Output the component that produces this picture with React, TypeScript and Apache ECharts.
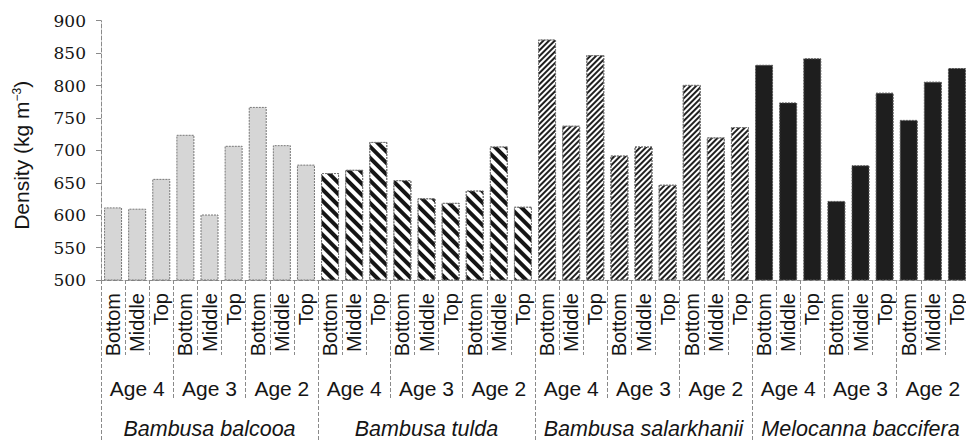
import React, { useEffect, useRef } from "react";
import * as echarts from "echarts";

const positions = ["Bottom", "Middle", "Top"];
const ages = ["Age 4", "Age 3", "Age 2"];
const species = ["Bambusa balcooa", "Bambusa tulda", "Bambusa salarkhanii", "Melocanna baccifera"];

// density values, order: Age 4 (Bottom, Middle, Top), Age 3 (...), Age 2 (...)
const balcooa = [612, 610, 656, 724, 601, 707, 767, 708, 678];
const tulda = [665, 670, 713, 654, 626, 619, 638, 706, 613];
const salarkhanii = [871, 738, 847, 692, 706, 647, 801, 720, 736];
const melocanna = [832, 774, 842, 622, 677, 789, 747, 806, 827];

const yMin = 500;
const yMax = 900;
const yStep = 50;

const positionCats: string[] = [];
const ageCats: string[] = [];
species.forEach(() => {
  ages.forEach((a) => {
    ageCats.push(a);
    positions.forEach((p) => positionCats.push(p));
  });
});

const speciesValues = [balcooa, tulda, salarkhanii, melocanna];

function spread(idx: number): (number | string)[] {
  const arr: (number | string)[] = positionCats.map(() => "-");
  speciesValues[idx].forEach((v, i) => {
    arr[idx * 9 + i] = v;
  });
  return arr;
}

const SANS = "Liberation Sans";
const SERIF = "DejaVu Serif";
const TXT = "#151515";
const LINE = "#8a8a8a";

export default function App() {
  const ref = useRef<HTMLDivElement>(null);
  useEffect(() => {
    if (!ref.current) return;
    document.documentElement.style.overflow = "hidden";
    document.body.style.overflow = "hidden";
    const chart = echarts.init(ref.current, undefined, { renderer: "svg" });
    const border = { borderColor: "#777", borderWidth: 1, borderType: [2, 1] as any };
    const barBase = {
      type: "bar" as const,
      xAxisIndex: 0,
      yAxisIndex: 0,
      barWidth: 18,
      barGap: "-100%",
    };
    chart.setOption({
      animation: false,
      backgroundColor: "#fff",
      grid: { left: 101, right: 11, top: 20.7, bottom: 161, containLabel: false },
      xAxis: [
        {
          type: "category",
          position: "bottom",
          data: positionCats,
          axisLine: { show: true, onZero: false, lineStyle: { color: LINE, type: "dashed", width: 1 } },
          axisTick: { show: true, interval: 0, length: 75, lineStyle: { color: LINE, type: "dashed", width: 1 } },
          axisLabel: {
            interval: 0,
            rotate: 90,
            margin: 13,
            fontSize: 20,
            lineHeight: 17,
            fontFamily: SANS,
            color: TXT,
          },
          splitLine: { show: false },
        },
        {
          type: "category",
          position: "bottom",
          offset: 0,
          data: ageCats,
          axisLine: { show: false, onZero: false },
          axisTick: { show: true, interval: 0, length: 118, lineStyle: { color: LINE, type: "dashed", width: 1 } },
          axisLabel: { interval: 0, margin: 98, fontSize: 21, fontFamily: SANS, color: TXT },
          splitLine: { show: false },
        },
        {
          type: "category",
          position: "bottom",
          offset: 0,
          data: species,
          axisLine: { show: false, onZero: false },
          axisTick: { show: true, interval: 0, length: 175, lineStyle: { color: LINE, type: "dashed", width: 1 } },
          axisLabel: { interval: 0, margin: 138, fontSize: 21.5, fontStyle: "italic", fontFamily: SANS, color: TXT },
          splitLine: { show: false },
        },
      ],
      yAxis: {
        type: "value",
        min: yMin,
        max: yMax,
        interval: yStep,
        name: "{a|Density (kg m}{s|−3}{a|)}",
        nameLocation: "middle",
        nameRotate: 90,
        nameGap: 69,
        nameTextStyle: {
          padding: [0, 10, 0, 0],
          rich: {
            a: { fontSize: 21, fontFamily: SANS, color: TXT },
            s: { fontSize: 12, fontFamily: SANS, color: TXT, verticalAlign: "top" },
          },
        },
        axisLine: { show: true, onZero: false, lineStyle: { color: LINE, type: "dashed", width: 1 } },
        axisTick: { show: true, length: 5, lineStyle: { color: LINE, width: 1 } },
        axisLabel: { margin: 15, fontSize: 17, fontFamily: SERIF, color: TXT },
        splitLine: { show: false },
      },
      series: [
        {
          ...barBase,
          name: species[0],
          data: spread(0),
          itemStyle: { color: "#d6d6d6", ...border },
        },
        {
          ...barBase,
          name: species[1],
          data: spread(1),
          itemStyle: {
            color: "#ffffff",
            ...border,
            decal: {
              symbol: "rect",
              symbolSize: 1,
              dashArrayX: [1, 0],
              dashArrayY: [3.3, 3.2],
              rotation: Math.PI / 4,
              color: "#151515",
            },
          },
        },
        {
          ...barBase,
          name: species[2],
          data: spread(2),
          itemStyle: {
            color: "#ffffff",
            ...border,
            decal: {
              symbol: "rect",
              symbolSize: 1,
              dashArrayX: [1, 0],
              dashArrayY: [2, 1.6],
              rotation: -Math.PI / 4,
              color: "#202020",
            },
          },
        },
        {
          ...barBase,
          name: species[3],
          data: spread(3),
          itemStyle: { color: "#1e1e1e", borderColor: "#555", borderWidth: 1, borderType: [2, 1] as any },
        },
      ],
    });
    return () => chart.dispose();
  }, []);
  return (
    <div
      ref={ref}
      style={{ position: "fixed", left: 0, top: 0, width: 980, height: 441, background: "#fff" }}
    />
  );
}
